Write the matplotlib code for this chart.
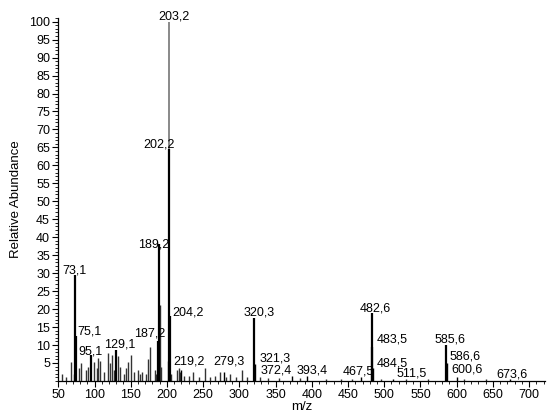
import matplotlib
matplotlib.use("Agg")
import matplotlib.pyplot as plt
from matplotlib.ticker import MultipleLocator

plt.rcParams['font.family'] = ['Liberation Sans', 'DejaVu Sans']

# labelled peaks (m/z, relative abundance)
peak_mz = [73.1, 75.1, 95.1, 129.1, 187.2, 189.2, 202.2, 203.2, 204.2, 219.2,
           279.3, 320.3, 321.3, 372.4, 393.4, 467.5, 482.6, 483.5, 484.5,
           511.5, 585.6, 586.6, 600.6, 673.6]
peak_int = [29.5, 12.5, 7.2, 8.6, 11.0, 38.0, 64.5, 100.0, 18.0, 3.0,
            2.5, 17.4, 4.6, 1.5, 1.5, 1.0, 18.8, 9.5, 3.5,
            0.6, 10.0, 5.0, 1.0, 0.6]
peak_text = ['73,1', '75,1', '95,1', '129,1', '187,2', '189,2', '202,2', '203,2',
             '204,2', '219,2', '279,3', '320,3', '321,3', '372,4', '393,4', '467,5',
             '482,6', '483,5', '484,5', '511,5', '585,6', '586,6', '600,6', '673,6']

# unlabelled smaller peaks
minor_mz = [54.5, 61, 67.4, 71, 78.5, 82, 88, 91, 99.6, 103, 105, 107, 113, 118,
            121, 123.6, 127, 131.9, 135, 141, 144, 146.6, 150.3, 154, 159.6, 163,
            166, 171, 174, 176.6, 183, 185, 190.2, 192, 201, 206, 214, 216, 218,
            224, 230, 236.5, 244, 252.6, 259, 266, 273, 281, 287, 295, 303, 310,
            328, 340, 355, 384, 420, 440, 455, 495, 530, 560, 610, 640]
minor_int = [2.0, 1.0, 5.4, 2.0, 3.5, 4.9, 3.0, 4.0, 5.4, 3.5, 6.3, 5.5, 2.5, 7.7,
             5.0, 7.2, 3.0, 7.0, 4.0, 2.0, 3.5, 5.4, 7.2, 2.5, 3.0, 2.0,
             2.5, 2.0, 6.0, 9.5, 3.0, 2.0, 21.0, 4.0, 5.5, 2.0, 3.0, 3.5, 2.5,
             1.5, 1.5, 2.6, 1.2, 3.5, 1.0, 1.5, 2.6, 1.2, 2.0, 1.0, 3.0, 1.0,
             1.0, 0.8, 0.8, 0.8, 0.6, 0.6, 0.6, 0.6, 0.5, 0.5, 0.5, 0.5]

# label anchor positions (data coordinates)
label_x = [72.9, 93.7, 95.0, 135.1, 176.2, 182.1, 188.8, 210.2, 229.5, 230.8,
           285.3, 326.8, 349.3, 351.5, 400.5, 464.5, 488.0, 510.6, 510.6,
           538.3, 590.2, 611.9, 614.3, 676.5]
label_y = [30.6, 13.7, 8.2, 10.2, 13.3, 38.1, 65.7, 101.3, 19.1, 5.4,
           5.4, 19.1, 6.2, 3.0, 3.0, 2.6, 20.2, 11.4, 4.9,
           2.1, 11.4, 6.9, 3.2, 1.75]

fig = plt.figure(figsize=(5.5, 4.2), dpi=100)
ax = fig.add_axes([0.106, 0.093, 0.885, 0.864])

ax.vlines(minor_mz, 0, minor_int, color='#333333', lw=1.0)
# tallest first so neighbouring peaks stay visible on top
order = sorted(range(len(peak_mz)), key=lambda i: -peak_int[i])
for i in order:
    mz, it = peak_mz[i], peak_int[i]
    if it >= 99:
        ax.vlines(mz, 0, it, color='#808080', lw=1.3)
    else:
        ax.vlines(mz, 0, it, color='black', lw=1.6 if it > 5 else 1.0)

for t, x, y in zip(peak_text, label_x, label_y):
    ax.text(x, y, t, ha='center', va='center', fontsize=9, color='black')

ax.set_xlim(50, 722)
ax.set_ylim(0, 101)
ax.spines['top'].set_visible(False)
ax.spines['right'].set_visible(False)
ax.spines['left'].set_linewidth(0.9)
ax.spines['bottom'].set_linewidth(0.9)

ax.xaxis.set_major_locator(MultipleLocator(50))
ax.xaxis.set_minor_locator(MultipleLocator(10))
ax.yaxis.set_minor_locator(MultipleLocator(1))
ax.set_yticks(range(5, 101, 5))
ax.tick_params(axis='both', which='major', labelsize=9, length=4, width=0.8, pad=2)
ax.tick_params(axis='both', which='minor', length=2, width=0.6)

ax.set_xlabel('m/z', fontsize=9.5, labelpad=0)
ax.set_ylabel('Relative Abundance', fontsize=9.5, labelpad=5)

fig.savefig('out.png', dpi=100)
